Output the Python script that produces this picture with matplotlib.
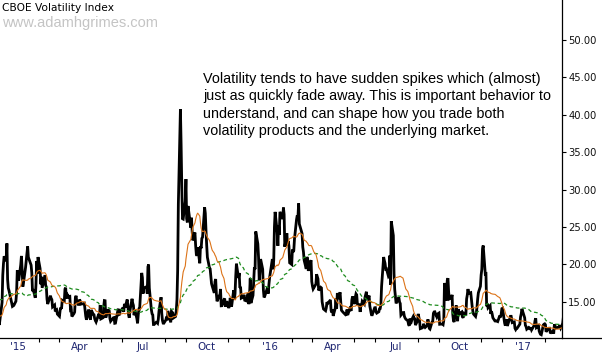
import numpy as np
import pandas as pd
import matplotlib
matplotlib.use('Agg')
import matplotlib.pyplot as plt
import matplotlib.dates as mdates
from matplotlib.lines import Line2D

# market holidays (so the daily closes land on trading days)
holidays = ['2014-09-01', '2014-11-27', '2014-12-25', '2015-01-01', '2015-01-19',
            '2015-02-16', '2015-04-03', '2015-05-25', '2015-07-03', '2015-09-07',
            '2015-11-26', '2015-12-25', '2016-01-01', '2016-01-18', '2016-02-15',
            '2016-03-25', '2016-05-30', '2016-07-04', '2016-09-05', '2016-11-24',
            '2016-12-26', '2017-01-02', '2017-01-16', '2017-02-20']

# VIX daily closes, one list per month (Sep-Nov 2014 only feed the averages)
vix_2014_09 = [12.25, 12.36, 12.64, 12.09, 13.50, 14.23, 13.32, 12.80, 13.31, 14.12, 12.73,
               12.65, 12.03, 12.11, 13.69, 14.93, 13.27, 15.64, 14.85, 15.98, 16.31]
vix_2014_10 = [16.71, 16.16, 14.55, 15.46, 17.20, 15.11, 18.76, 21.24, 24.64, 22.79, 26.25,
               25.20, 21.99, 18.57, 16.08, 17.87, 16.53, 16.11, 16.04, 14.39, 15.15, 14.52, 14.03]
vix_2014_11 = [14.73, 15.14, 14.17, 13.67, 13.12, 12.67, 12.92, 13.02, 13.79, 13.31, 13.99,
               13.86, 13.96, 13.58, 12.90, 12.62, 12.25, 12.07, 13.33]
vix_2014_12 = [14.29, 12.85, 12.47, 12.38, 11.89, 14.21, 14.89, 18.53, 20.08, 21.08, 20.42,
               22.80, 17.98, 16.81, 16.49, 15.25, 14.80, 14.37, 14.50, 15.06, 16.20, 19.20]
vix_2015_01 = [17.79, 19.92, 21.12, 19.31, 17.01, 17.55, 19.60, 20.56, 21.48, 22.39, 20.95,
               19.89, 18.85, 16.40, 16.66, 15.52, 17.22, 20.44, 18.76, 20.97]
vix_2015_02 = [19.43, 17.33, 18.33, 16.85, 17.29, 18.55, 17.23, 16.96, 15.34, 14.69, 15.80,
               15.45, 15.29, 14.30, 14.56, 13.69, 13.84, 13.91, 13.34]
vix_2015_03 = [13.04, 13.86, 14.23, 14.04, 15.20, 15.06, 16.69, 16.87, 15.42, 16.00, 15.61,
               15.66, 13.97, 14.07, 13.02, 13.41, 13.62, 15.44, 15.80, 15.07, 14.51, 15.29]
vix_2015_04 = [15.11, 14.67, 14.74, 14.78, 13.98, 13.09, 12.58, 13.94, 13.67, 12.84, 12.60,
               13.89, 13.30, 13.25, 12.71, 12.48, 12.29, 13.12, 13.03, 13.39, 14.55]
vix_2015_05 = [12.70, 12.85, 14.31, 15.15, 15.13, 12.86, 13.85, 13.86, 13.76, 12.74, 12.38,
               12.73, 12.85, 12.88, 12.11, 12.13, 14.06, 13.27, 13.31, 13.84]
vix_2015_06 = [13.97, 14.24, 13.66, 14.71, 14.21, 15.29, 14.47, 13.22, 12.85, 13.78, 15.39,
               14.81, 14.50, 13.19, 13.96, 12.74, 12.11, 13.26, 14.01, 14.02, 18.85, 18.23]
vix_2015_07 = [16.09, 16.79, 17.01, 16.09, 19.66, 19.97, 16.83, 13.90, 13.37, 13.23, 11.95,
               11.95, 12.25, 12.22, 12.12, 12.64, 13.74, 15.60, 13.44, 12.50, 12.13, 12.12]
vix_2015_08 = [12.56, 13.00, 12.51, 13.77, 13.39, 12.23, 13.71, 13.61, 13.49, 12.83, 13.02,
               13.79, 15.25, 19.14, 28.03, 40.74, 36.02, 30.32, 26.10, 26.05, 28.43]
vix_2015_09 = [31.40, 26.09, 25.61, 27.80, 24.90, 26.23, 24.37, 23.20, 24.25, 22.54, 21.35,
               21.14, 22.28, 20.14, 22.44, 22.13, 23.47, 23.62, 27.63, 26.83, 24.50]
vix_2015_10 = [22.55, 20.94, 19.54, 19.40, 18.40, 17.42, 17.08, 16.17, 17.67, 18.03, 16.05,
               15.05, 15.75, 15.75, 16.70, 14.45, 14.46, 15.29, 15.43, 14.33, 14.61, 15.07]
vix_2015_11 = [14.15, 14.54, 15.51, 15.05, 14.33, 16.52, 15.29, 16.06, 18.37, 20.08, 18.16,
               18.84, 16.85, 16.99, 15.47, 15.62, 15.93, 15.19, 15.12, 16.13]
vix_2015_12 = [14.67, 15.91, 18.11, 14.81, 15.84, 17.60, 19.61, 19.34, 24.39, 22.73, 20.95,
               17.86, 18.94, 20.70, 19.34, 16.60, 15.57, 15.74, 16.91, 16.08, 17.29, 18.21]
vix_2016_01 = [20.70, 19.34, 20.59, 24.99, 27.01, 24.30, 22.47, 25.22, 23.95, 27.02, 26.05,
               27.59, 26.69, 22.34, 24.15, 22.50, 23.11, 22.42, 20.20]
vix_2016_02 = [19.98, 21.98, 21.65, 21.84, 23.38, 26.00, 26.54, 26.29, 28.14, 25.40, 24.11,
               22.31, 21.64, 20.53, 19.38, 20.98, 20.72, 19.11, 19.81, 20.55]
vix_2016_03 = [17.70, 17.09, 16.70, 16.86, 17.35, 18.67, 18.34, 18.05, 16.50, 16.92, 16.84,
               14.99, 14.44, 14.02, 13.79, 14.17, 14.94, 14.74, 15.24, 13.82, 13.56, 13.95]
vix_2016_04 = [13.10, 14.12, 15.42, 14.09, 16.16, 15.36, 16.26, 14.85, 13.84, 13.72, 13.62,
               13.35, 13.24, 13.28, 13.95, 13.22, 14.08, 13.96, 13.77, 15.22, 15.70]
vix_2016_05 = [14.68, 15.60, 16.05, 15.91, 14.72, 14.57, 13.63, 14.69, 14.41, 15.04, 14.68,
               15.57, 15.95, 16.33, 15.20, 15.82, 14.42, 13.90, 13.43, 13.12, 14.19]
vix_2016_06 = [14.20, 13.63, 13.47, 13.65, 14.05, 14.08, 14.64, 17.03, 20.97, 20.50, 20.14,
               19.37, 19.41, 18.37, 18.48, 21.17, 17.25, 25.76, 23.85, 18.75, 16.64, 15.63]
vix_2016_07 = [14.77, 15.58, 14.96, 14.76, 13.20, 13.54, 13.55, 13.04, 12.82, 12.67, 12.44,
               11.97, 11.77, 12.74, 12.02, 12.87, 13.05, 12.83, 12.72, 11.87]
vix_2016_08 = [12.44, 13.37, 12.86, 12.42, 11.39, 11.50, 11.66, 12.05, 11.68, 11.55, 11.81,
               12.64, 12.19, 11.43, 11.34, 12.27, 12.38, 13.45, 13.63, 13.65, 12.94, 13.12, 13.42]
vix_2016_09 = [13.48, 11.98, 12.02, 11.94, 12.51, 17.50, 15.16, 17.85, 18.14, 16.30, 15.37,
               15.53, 15.92, 13.30, 12.45, 12.29, 14.50, 13.10, 12.39, 14.02, 13.29]
vix_2016_10 = [13.57, 13.63, 12.99, 12.84, 13.48, 13.38, 15.36, 15.91, 16.69, 16.12, 16.21,
               15.28, 14.41, 13.75, 13.34, 13.02, 13.46, 14.24, 15.36, 16.19, 17.06]
vix_2016_11 = [18.56, 19.32, 22.08, 22.51, 18.71, 18.74, 14.38, 14.74, 14.17, 14.48, 13.37,
               13.72, 13.35, 12.85, 12.42, 12.41, 12.43, 12.34, 13.15, 12.90, 13.33]
vix_2016_12 = [14.07, 14.12, 12.14, 11.79, 12.22, 12.64, 11.75, 12.64, 12.72, 13.19, 12.79,
               12.20, 12.29, 11.45, 11.27, 11.43, 11.44, 11.99, 12.95, 13.37, 14.04]
vix_2017_01 = [12.85, 11.85, 11.67, 11.32, 11.56, 11.49, 11.26, 11.54, 11.23, 11.87, 12.48,
               12.78, 11.54, 11.77, 11.07, 10.81, 10.63, 10.58, 11.88, 11.99]
vix_2017_02 = [12.04, 11.93, 10.97, 11.37, 11.45, 11.45, 10.88, 10.85, 11.07, 10.74, 11.97,
               11.76, 11.49, 11.57, 11.74, 11.71, 11.47, 12.09, 12.92]

months = ['2014-09', '2014-10', '2014-11', '2014-12', '2015-01', '2015-02', '2015-03',
          '2015-04', '2015-05', '2015-06', '2015-07', '2015-08', '2015-09', '2015-10',
          '2015-11', '2015-12', '2016-01', '2016-02', '2016-03', '2016-04', '2016-05',
          '2016-06', '2016-07', '2016-08', '2016-09', '2016-10', '2016-11', '2016-12',
          '2017-01', '2017-02']
monthly = [vix_2014_09, vix_2014_10, vix_2014_11, vix_2014_12, vix_2015_01, vix_2015_02,
           vix_2015_03, vix_2015_04, vix_2015_05, vix_2015_06, vix_2015_07, vix_2015_08,
           vix_2015_09, vix_2015_10, vix_2015_11, vix_2015_12, vix_2016_01, vix_2016_02,
           vix_2016_03, vix_2016_04, vix_2016_05, vix_2016_06, vix_2016_07, vix_2016_08,
           vix_2016_09, vix_2016_10, vix_2016_11, vix_2016_12, vix_2017_01, vix_2017_02]

note = ("Volatility tends to have sudden spikes which (almost)\n"
        "just as quickly fade away. This is important behavior to\n"
        "understand, and can shape how you trade both\n"
        "volatility products and the underlying market.")

# build the daily series
dates, closes = [], []
for m, vals in zip(months, monthly):
    start = pd.Timestamp(m + '-01')
    days = pd.bdate_range(start, start + pd.offsets.MonthEnd(0), freq='C', holidays=holidays)
    assert len(days) == len(vals), (m, len(days), len(vals))
    dates.extend(days)
    closes.extend(vals)
vix = pd.Series(closes, index=pd.DatetimeIndex(dates))
ma20 = vix.rolling(20).mean()
ma60 = vix.rolling(60).mean()

fig = plt.figure(figsize=(6.02, 3.56), dpi=100)
ax = fig.add_axes([0, 18.5 / 356, 562 / 602, 1 - 18.5 / 356])

ax.plot(vix.index, vix.values, color='black', lw=2.0, solid_joinstyle='miter', zorder=2)
ax.plot(ma60.index, ma60.values, color='#1e8c1e', lw=0.9, ls=(0, (3, 2.2)), zorder=3)
ax.plot(ma20.index, ma20.values, color='#dc7318', lw=0.8, zorder=4)

ax.set_xlim(pd.Timestamp('2014-12-06'), pd.Timestamp('2017-02-26'))
ax.set_ylim(10.21, 55.35)

# axes look: only bottom and right lines
for side in ['left', 'top']:
    ax.spines[side].set_visible(False)
for side in ['right', 'bottom']:
    ax.spines[side].set_linewidth(0.9)
ax.yaxis.tick_right()
ax.set_yticks([15, 20, 25, 30, 35, 40, 45, 50])
ax.yaxis.set_major_formatter(plt.FormatStrFormatter('%.2f'))
ax.tick_params(axis='y', direction='out', length=3, width=0.8, pad=1.5,
               labelsize=7.2, labelcolor='#111111')

ax.xaxis.set_major_locator(mdates.MonthLocator(bymonth=[1, 4, 7, 10]))
ax.xaxis.set_major_formatter(plt.FuncFormatter(
    lambda v, p: mdates.num2date(v).strftime("'%y") if mdates.num2date(v).month == 1
    else mdates.num2date(v).strftime('%b')))
ax.xaxis.set_minor_locator(mdates.MonthLocator())
ax.tick_params(axis='x', which='major', length=0, pad=3.5, labelsize=7.4, labelcolor='#1c2470')
ax.tick_params(axis='x', which='minor', direction='out', length=3, width=0.8)

# bottom line continues under the price scale
fig.add_artist(Line2D([562 / 602, 1], [18.5 / 356, 18.5 / 356], color='black', lw=0.9))

fig.text(2 / 602, 1 - 8 / 356, 'CBOE Volatility Index', fontsize=7.7, va='center',
         color='black', family='DejaVu Sans')
fig.text(2 / 602, 1 - 23 / 356, 'www.adamhgrimes.com', fontsize=10.5, va='center',
         color='#c4c4c4', family='Liberation Sans')
fig.text(203 / 602, 1 - 71.5 / 356, note, fontsize=10.35, va='top', ha='left',
         family='Liberation Sans', linespacing=1.32, color='black')

fig.savefig('out.png', dpi=100)
